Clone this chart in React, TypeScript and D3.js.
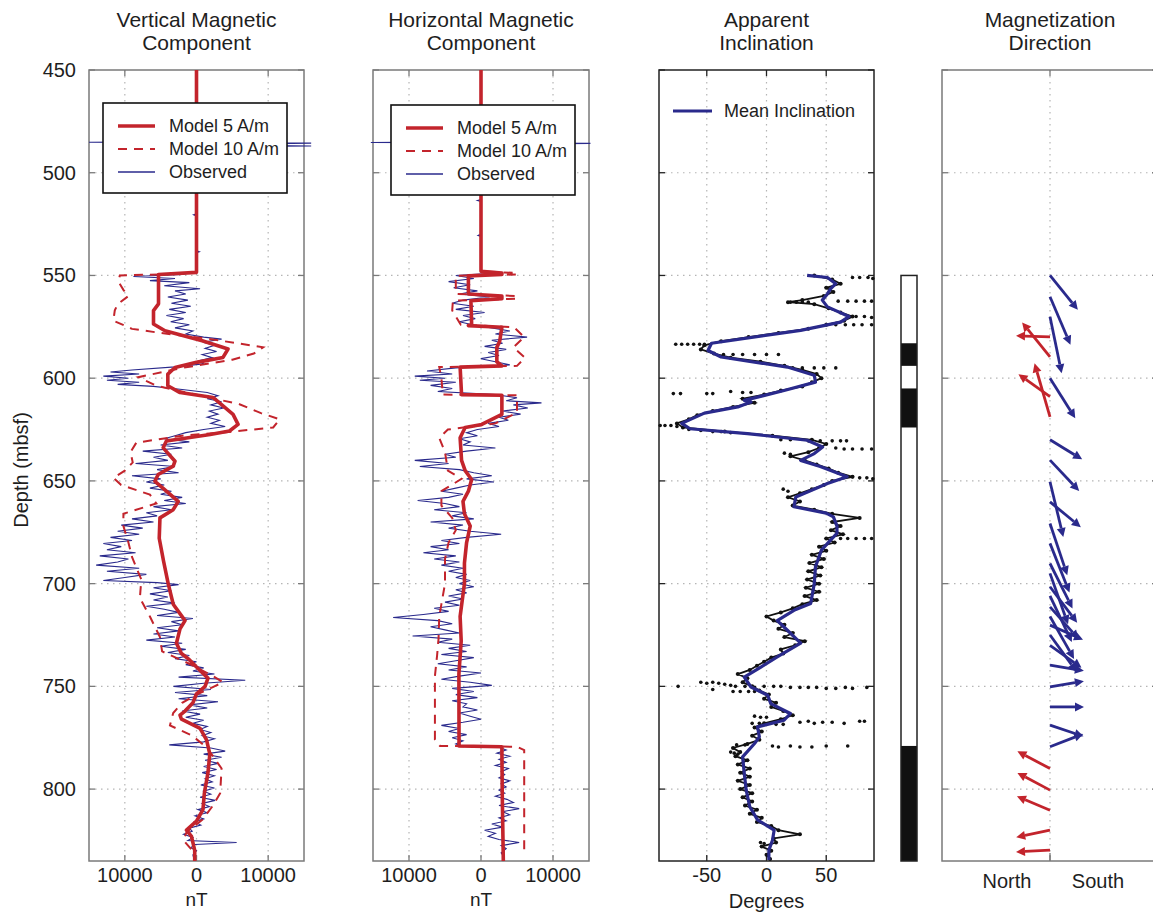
import React from 'react';
import * as d3 from 'd3';

type Pt = [number, number];

// depth axis
const depthDomain = [450, 835];
const depthTicks = [450, 500, 550, 600, 650, 700, 750, 800];
const nTTicks = [-10000, 0, 10000];
const nTTickLabels = ['10000', '0', '10000'];
const degTicks = [-50, 0, 50];
const degTickLabels = ['-50', '0', '50'];

// [depth, nT] vertical component
const vertModel5: Pt[] = [
  [450, 0], [548.5, 0], [549.5, -5300], [563.8, -5300], [567.1, -6000], [573.6, -6000], [576.9, -4400],
  [581.8, 800], [585.8, 4400], [589.9, 3700], [592.3, 0], [594.8, -3000], [598, -4000], [603.7, -4000],
  [607, -2300], [609.4, 2300], [617.6, 5100], [622.5, 5800], [625.7, 4600], [627.4, 1900], [630.6, -4200],
  [633.9, -4650], [640.4, -3000], [642.8, -3250], [646.9, -5350], [650.2, -5800], [655, -4200], [660, -2560],
  [664, -3250], [668, -5100], [677.9, -5200], [689, -4600], [700, -3950], [710, -3250], [718, -1600],
  [722, -2300], [729, -2800], [734, -2100], [737, -1000], [740.6, 0], [746, 1600], [750, 1200], [753.6, 0],
  [758, -500], [762, -1600], [764, -2300], [766, -2100], [770.5, 500], [776, 1400], [783, 1860], [792, 1600],
  [802, 1100], [810, 900], [815.6, 0], [820, -1400], [823, -700], [829.8, -250], [835, -250],
];
const vertModel10: Pt[] = [
  [450, 0], [548.5, 0], [549.5, -5000], [550, -10700], [553, -10900], [557, -10200], [560, -9500],
  [564, -11000], [567, -11400], [572, -11600], [576, -9000], [578, -5000], [581, 2000], [585, 9300],
  [588, 8000], [591, 5000], [595, -2000], [599.5, -8100], [603.7, -5600], [608, 0], [612.7, 6000],
  [617, 9000], [620, 11600], [624, 10700], [626, 5000], [628, -2000], [631.4, -8400], [636, -9200],
  [641, -8900], [645, -10000], [648.5, -11600], [652, -10500], [656.7, -6500], [661, -5600], [666, -10200],
  [672, -10200], [680, -9500], [687, -9000], [693, -8300], [698, -7700], [707, -7900], [716, -6500],
  [726, -5100], [733, -4800], [739, -1000], [745, 2300], [748, 3700], [750, 2500], [754, 0], [758, -2000],
  [763, -3250], [769, -3700], [774, -600], [780, 1500], [790, 3500], [802, 3300], [808, 2300], [815, 800],
  [821, -1400], [825, -1800], [831, -300], [835, -300],
];
const vertObserved: Pt[] = [
  [450, 0], [484.8, 0], [485.2, -15000], [485.6, 16000], [486.4, 0], [487, 16000], [487.5, 0], [520, 0],
  [520.5, -400], [521, 0], [538, 0], [538.5, 400], [539, 0], [548, 0],
  [549.5, -2000], [550.5, -8800], [551.5, -3000], [552.5, -6500], [553.5, -1000], [555, -4500], [556.5, 500],
  [557.5, -3000], [559, -1500], [560.5, -4000], [562, -1200], [563.5, -3500], [565, -800], [566.5, -3800],
  [568, -1500], [569.5, -4200], [571, -1800], [572.5, -3600], [574, -1000], [575.5, -3000], [577, -500],
  [578.5, -1500], [580, 1000], [581, 3500], [582.5, 900], [584, 2500], [585.5, 1200], [587, 2800],
  [588.5, 800], [590, 2200], [591.5, 300], [593, 1000], [594.5, -3000], [596, -9000], [597, -12000],
  [598, -8000], [599, -13000], [600, -9500], [601, -12500], [602, -8000], [603, -11000], [604, -6000],
  [605.5, -2000], [607, 1500], [608.5, 3000], [610, 1500], [611.5, 3500], [613, 2000], [614.5, 3800],
  [616, 1800], [617.5, 3000], [619, 1500], [620.5, 3200], [622, 2000], [623.5, 4000], [625, 1000],
  [626.5, -1500], [628, -3000], [629.5, -4500], [631, -1000], [632.5, -5000], [634, -2000], [635.5, -7500],
  [637, -3500], [638.5, -6000], [640, -4000], [641.5, -8500], [643, -3000], [644.5, -5500], [646, -2500],
  [647.5, -9000], [649, -5000], [650.5, -7000], [652, -4500], [653.5, -6500], [655, -3500], [656.5, -5000],
  [658, -2000], [659.5, -4500], [661, -1500], [662.5, -6000], [664, -3500], [665.5, -7000], [667, -5500],
  [668.5, -9000], [670, -6000], [671.5, -10500], [673, -7500], [674.5, -11000], [676, -8000],
  [677.5, -12000], [679, -9000], [680.5, -13000], [682, -10500], [683.5, -12500], [685, -8500],
  [686.5, -13500], [688, -9500], [689.5, -11000], [691, -14000], [692.5, -8000], [694, -12500],
  [695.5, -7000], [697, -10000], [698.5, -13000], [699.5, -5500], [700.5, -2500], [702, -6000],
  [703.5, -3500], [705, -6500], [706.5, -4000], [708, -6000], [709.5, -3000], [711, -7000], [712.5, -4500],
  [714, -2500], [715.5, -5500], [717, -500], [718.5, -3500], [720, -2000], [721.5, -5500], [723, -2500],
  [724.5, -6000], [726, -3000], [727.5, -7000], [729, -2000], [730.5, -5000], [732, -1500], [733.5, -4000],
  [735, -1000], [736.5, -3000], [738, 0], [739.5, -1500], [741, 1000], [742.5, -500], [744, 2500],
  [745.5, -2500], [747, 6800], [748.5, 1000], [750, -3200], [751.5, 2000], [753, -3000], [754.5, 1500],
  [756, -2500], [757.5, 3000], [759, -1000], [760.5, 1500], [762, -2000], [763.5, 500], [765, -1500],
  [766.5, 1000], [768, -500], [769.5, 1500], [771, 500], [772.5, 2000], [774, 800], [775.5, 2500],
  [777, 1000], [778.5, -3800], [780, 2000], [781.5, 4000], [783, 1000], [784.5, 3500], [786, 1200],
  [787.5, 3000], [789, 1000], [790.5, 2800], [792, 800], [793.5, 2500], [795, 1200], [796.5, 2200],
  [798, 600], [799.5, 2500], [801, 1000], [802.5, 2000], [804, 500], [805.5, 2600], [807, 800],
  [808.5, 1800], [810, 200], [811.5, 1500], [813, -200], [814.5, 1000], [816, -300], [817.5, 600],
  [819, -1000], [820.5, -600], [822, -1800], [823.5, -500], [825, -1200], [826, 5600], [827, -200],
  [828.5, -800], [830, 0], [832, -500], [835, -300],
];

// [depth, nT] horizontal component
const horizModel5: Pt[] = [
  [450, 0], [548, 0], [548.8, 2900], [549.5, 2900], [550.2, -1750], [559, -1750], [560, 2900], [561.3, 2900],
  [562.3, -1400], [574, -1300], [574.4, -1750], [575.2, 2900], [582, 2600], [585, 2200], [592, 2200],
  [594, 2900], [594.6, -2900], [608, -2700], [608.3, 2900], [617.6, 2900], [622.5, 100], [624, -2200],
  [629, -2900], [640, -2700], [645, -2200], [649.3, -1300], [655, -1750], [660, -2500], [666, -2300],
  [672, -1500], [680, -2000], [690, -2300], [700, -2300], [716, -2900], [728, -2750], [744, -3070],
  [779, -3050], [779.4, 2900], [802, 2950], [835, 3100],
];
const horizModel10: Pt[] = [
  [450, 0], [548, 0], [548.8, 5000], [549.5, 5000], [550.2, -3500], [559, -3500], [560, 5000], [561.3, 5000],
  [562.3, -3900], [567, -4000], [574, -2800], [575.2, 4600], [580, 6000], [585, 4500], [590, 6100],
  [594, 5000], [594.6, -5800], [600, -5500], [608, -5300], [608.3, 5000], [616.8, 5000], [622, 2000],
  [625, -4600], [629, -5800], [636, -5000], [645, -4600], [649, -2700], [655, -5500], [662, -5500],
  [668, -4000], [674, -3500], [680, -4500], [688, -5000], [700, -5000], [710, -5500], [716, -5800],
  [727, -5900], [735, -6100], [745, -6400], [760, -6400], [776, -6400], [779, -5700], [779.4, 5000],
  [781, 6000], [830, 6000],
];
const horizObserved: Pt[] = [
  [450, 0], [484.8, 0], [485.3, -15300], [485.7, 15200], [486.2, 0], [500, 0], [500.5, -600], [501, 0],
  [513, 0], [513.5, -500], [514, 0], [530, 0], [530.5, -400], [531, 0], [548, 0], [549, 1500], [550, -3500],
  [551.5, -1000], [553, -4500], [554.5, -1500], [556, -3800], [557.5, -500], [559, -3000], [560.5, 1200],
  [562, -2500], [563.5, -4000], [565, -1000], [566.5, -3500], [568, 500], [569.5, -2500], [571, -800],
  [572.5, -3000], [574, -1200], [575.5, 1500], [577, 4000], [578.5, 2000], [580, 6400], [581.5, 1500],
  [583, 3000], [584.5, 500], [586, 3500], [587.5, 1000], [589, 2500], [590.5, 0], [592, 2000],
  [593.5, 4000], [595, -3500], [596.5, -7500], [598, -4000], [599, -9200], [600, -5000], [601, -8500],
  [602, -3500], [603.5, -7000], [605, -4000], [606.5, -6000], [608, 2000], [609.5, 5000], [611, 3500],
  [612, 8400], [613, 4500], [614.5, 6500], [616, 3000], [617.5, 5500], [619, 2500], [620.5, 3800],
  [622, 1000], [623.5, 2500], [625, -500], [626.5, -2000], [628, -500], [629.5, -3000], [631, -1500],
  [632.5, -2500], [634, 2000], [635.5, -2000], [637, -5000], [638.5, -3500], [640, -9200], [641.5, -4500],
  [643, -8500], [644.5, -3000], [646, -1000], [647.5, 1500], [649, -2000], [650.5, 1800], [652, -1500],
  [653.5, -3500], [655, -5500], [656.5, -2500], [658, -4500], [659.5, -8800], [661, -5000], [662.5, -3000],
  [664, -6500], [665.5, -2000], [667, -4000], [668.5, -1000], [670, -7000], [671.5, -2500], [673, -4500],
  [674.5, -1500], [676, 2800], [677.5, -2000], [679, -5500], [680.5, -3000], [682, -7000], [683.5, -4500],
  [685, -8000], [686.5, -3500], [688, -6500], [689.5, -3000], [691, -5500], [692.5, -2500], [694, -4500],
  [695.5, -2000], [697, -3500], [698.5, -1500], [700, -3000], [701.5, -1000], [703, -3500], [704.5, -2000],
  [706, -4500], [707.5, -2500], [709, -5000], [710.5, -3000], [712, -6500], [713.5, -4500], [715, -8000],
  [716.5, -12200], [718, -6000], [719.5, -4000], [721, -7000], [722.5, -5000], [724, -3000],
  [725.5, -9500], [727, -4000], [728.5, -6000], [730, -1500], [731.5, -4500], [733, -2000], [734.5, -5500],
  [736, -1000], [737.5, -3500], [739, -6000], [740.5, -2000], [742, -4500], [743.5, 0], [745, -3000],
  [746.5, -5500], [748, -1500], [749.5, 1500], [751, -4000], [752.5, -1000], [754, -3500], [755.5, -500],
  [757, -4000], [758.5, -2000], [760, -2500], [761.5, -500], [763, -3000], [764.5, -1500], [766, 0],
  [767.5, -2500], [769, -5500], [770.5, -3000], [772, -4500], [773.5, -2000], [775, -4000], [776.5, -2500],
  [778, -3500], [779.2, -2500], [779.6, 2500], [781, 3500], [782.5, 2200], [784, 4000], [785.5, 2500],
  [787, 3500], [788.5, 2000], [790, 3800], [791.5, 2800], [793, 3300], [794.5, 2500], [796, 4000],
  [797.5, 2800], [799, 3500], [800.5, 2500], [802, 3300], [803.5, 2000], [805, 3600], [806.5, 4500],
  [808, 2500], [809.5, 5300], [811, 3000], [812.5, 4000], [814, 2500], [815.5, 3500], [817, 1500],
  [818.5, 3000], [820, 500], [821.5, 2000], [823, 1000], [824.5, 2500], [826, 5300], [827.5, 2800],
  [829, 3500], [831, 2800], [833, 3200], [835, 3000],
];

// [depth, degrees] apparent inclination
const incMean: Pt[] = [
  [550, 34], [551, 51], [554, 58], [556.5, 53.6], [559, 51], [562, 46.7], [565.3, 51], [570, 69],
  [572.7, 62], [576.7, 28.6], [583, -46], [586.5, -49], [589.7, -38], [594.6, 17.5], [598.6, 40],
  [601.9, 41], [606, 14.7], [610.8, -18.6], [611.6, -13], [614, -24], [617, -52], [622, -71], [624.6, -64],
  [627, -16], [630.2, 34], [633.5, 47], [636.7, 40], [640, 28.6], [643, 45], [648, 67.5], [651.3, 51],
  [657.8, 24.5], [662.6, 23], [665.7, 50], [667.5, 56], [672, 59], [675.5, 59], [678.8, 53.6], [683.7, 46],
  [691.8, 41], [700, 40], [709.7, 37], [713, 23], [718, 9], [722.7, 17.5], [729, 28.6], [735.7, 9],
  [740.6, -4.7], [745.5, -18.6], [750.3, -13], [754.3, 1], [758.4, 3.6], [763.2, 20], [766.5, 14.7],
  [769.7, -7.5], [774.6, -6], [777.8, -10], [784.3, -20], [792.4, -18.6], [800.5, -17], [808.6, -14],
  [815, -7.5], [820, 6.4], [824.9, 5], [829.7, 2], [834.5, 2],
];
const incRaw: Pt[] = [
  [550, 40], [552, 55], [554, 62], [556, 50], [558, 56], [560, 48], [562, 30], [563, 18], [564, 40], [566, 52],
  [568, 62], [570, 72], [572, 65], [574, 50], [576, 35], [578, 10], [580, -15], [582, -38], [584, -52],
  [586, -55], [588, -44], [590, -30], [592, -5], [594, 15], [596, 30], [598, 42], [600, 46], [602, 38],
  [604, 30], [606, 12], [608, -2], [610, -20], [612, -10], [614, -28], [616, -45], [618, -58], [620, -65],
  [622, -75], [624, -70], [626, -35], [628, 5], [630, 38], [632, 50], [634, 44], [636, 35], [638, 20],
  [640, 32], [642, 42], [644, 52], [646, 60], [648, 72], [650, 55], [652, 48], [654, 38], [656, 28],
  [658, 18], [660, 28], [662, 22], [664, 40], [666, 55], [668, 78], [670, 55], [672, 62], [674, 54],
  [676, 64], [678, 50], [680, 57], [682, 44], [684, 50], [686, 38], [688, 48], [690, 36], [692, 46],
  [694, 35], [696, 45], [698, 34], [700, 44], [702, 33], [704, 44], [706, 32], [708, 42], [710, 30],
  [712, 22], [714, 12], [716, 0], [718, 6], [720, 15], [722, 10], [724, 22], [726, 15], [728, 32],
  [730, 24], [732, 12], [734, 14], [736, 4], [738, -2], [740, -8], [742, -14], [744, -24], [746, -16],
  [748, -20], [750, -12], [752, -6], [754, 2], [756, -2], [758, 8], [760, 4], [762, 14], [764, 22],
  [766, 12], [768, -2], [770, -10], [772, -4], [774, -12], [776, -6], [778, -16], [780, -28], [782, -22],
  [784, -26], [786, -16], [788, -24], [790, -14], [792, -22], [794, -14], [796, -24], [798, -14],
  [800, -22], [802, -12], [804, -20], [806, -12], [808, -18], [810, -8], [812, -14], [814, -4], [816, -8],
  [818, 4], [820, 10], [822, 28], [824, 6], [826, 8], [828, -4], [830, 4], [832, 0], [834, 3],
];
const incScatter: Pt[] = [
  [551, 72], [551, 78], [551, 85], [551.5, 89], [563, 20], [563, 25], [563, 30], [563, 35],
  [562.5, 60], [562.5, 68], [562.5, 75], [562.5, 82], [562.5, 88], [570, 75], [570, 82], [570.5, 88],
  [574, 58], [574, 66], [574, 73], [574, 80], [574, 88],
  [583.5, -76], [583.5, -71], [583.5, -66], [583.5, -61], [583.5, -56], [583.5, -52],
  [588.5, -36], [588.5, -28], [588.5, -20], [588.5, -10], [588.5, 0], [588.5, 10],
  [595, 22], [595, 30], [595, 40], [595, 48], [595, 58],
  [607.5, -78], [607.5, -72], [607.5, -50], [607.5, -45], [606.5, -30], [607, -20], [607, -13],
  [623, -89], [623, -85], [623, -80], [623.5, -75], [625, -65], [625.5, -55], [626, -45], [626, -38], [626.5, -30],
  [630, 12], [630, 20], [630.5, 35], [630.5, 45], [630.5, 55], [630.5, 62], [630.5, 67],
  [634, 58], [634.5, 65], [634.5, 72], [634.5, 80], [634.5, 88], [636.5, 15], [637, 20],
  [648, 72], [648.5, 78], [648.5, 84], [649, 89], [654, 14], [655, 18],
  [678, 62], [678, 68], [678, 75], [678, 82], [678, 88],
  [748, -55], [748.5, -50], [748, -45], [748.5, -40], [749, -35], [749.5, -30], [750, -74], [750, -26],
  [750, -18], [750.5, -10], [750, -2], [750, 6], [750, 12], [750.5, 20], [750.5, 28], [750.5, 35],
  [750.5, 42], [751, 50], [751, 58], [750.5, 66], [751, 72], [750.5, 84], [751.5, -45], [752.5, -28],
  [752.5, -22], [752.5, -15], [752.5, -10],
  [764.5, -10], [765, -5], [765, 0], [767.5, 28], [767, 35], [768, 40], [767.5, 47], [767.5, 55],
  [768, 65], [767, 78], [767, 82], [768, -12], [768, -6], [768.5, 0], [768.5, 8], [768.5, 14],
  [778.5, -25], [778.5, -18], [779, 5], [779.5, 10], [779, 20], [779.5, 28], [779.5, 38], [779, 50], [779, 68],
  [782, -30], [782.5, -27], [783, -24], [826, -5], [826.5, -2],
];

// polarity column: black = reversed intervals
const polarityTop = 550;
const polarityBottom = 835;
const reversedBands: Pt[] = [[583, 594], [605, 624], [779, 835]];

// magnetization direction: [depth, inclination deg]
const normalArrows: Pt[] = [
  [550, 35], [560.4, 53], [570.1, 70], [600, 42], [630, 19], [639.9, 31], [650.4, 67], [660.2, 25],
  [670.7, 59.5], [680.4, 55], [690.2, 48.5], [695, 58], [701.5, 37], [706, 50], [711.3, 32.5], [716, 45],
  [720.2, 14], [725, 38], [730, 22], [739.7, 5.4], [750.2, -5.4], [760, 0], [768.9, 10.7], [779.4, -12.4],
];
const reversedArrows: Pt[] = [
  [579.9, -1], [589.6, -35], [609, -22], [618.8, -63], [790, -16.7], [800.5, -16.7], [810.3, -13.4],
  [820, 6.8], [829.7, 1.7],
];

const RED = '#c3242c';
const BLUE = '#2a2a8c';
const AXIS = '#7a7a7a';
const GRID = '#b5b5b5';
const TEXT = '#1e1e1e';
const FONT = '"Liberation Sans", Arial, sans-serif';

const y = d3.scaleLinear().domain(depthDomain).range([70, 861]);
const xVert = d3.scaleLinear().domain([-15000, 15000]).range([89, 304]);
const xHoriz = d3.scaleLinear().domain([-15000, 15000]).range([373, 589]);
const xInc = d3.scaleLinear().domain([-90, 90]).range([659, 874]);
const xDir = d3.scaleLinear().domain([-1, 1]).range([942, 1158]);
const xPol = [901, 917];

const pathFor = (x: d3.ScaleLinear<number, number>) =>
  d3.line<Pt>().x(d => x(d[1])).y(d => y(d[0]));

function Frame({ x, ticks, color }: { x: d3.ScaleLinear<number, number>; ticks: number[]; color: string }) {
  const [x0, x1] = x.range();
  const y0 = y(depthDomain[0]);
  const y1 = y(depthDomain[1]);
  return (
    <g>
      {depthTicks.slice(1).map(t => (
        <line key={'h' + t} x1={x0} x2={x1} y1={y(t)} y2={y(t)} stroke={GRID} strokeWidth={1.2} strokeDasharray="1.5,4.5" />
      ))}
      {ticks.map(t => (
        <line key={'v' + t} x1={x(t)} x2={x(t)} y1={y0} y2={y1} stroke={GRID} strokeWidth={1.2} strokeDasharray="1.5,4.5" />
      ))}
      <rect x={x0} y={y0} width={x1 - x0} height={y1 - y0} fill="none" stroke={color} strokeWidth={1.5} />
      {depthTicks.map(t => (
        <g key={'t' + t}>
          <line x1={x0} x2={x0 + 6} y1={y(t)} y2={y(t)} stroke={color} strokeWidth={1.3} />
          <line x1={x1 - 6} x2={x1} y1={y(t)} y2={y(t)} stroke={color} strokeWidth={1.3} />
        </g>
      ))}
      {ticks.map(t => (
        <g key={'x' + t}>
          <line x1={x(t)} x2={x(t)} y1={y1} y2={y1 - 6} stroke={color} strokeWidth={1.3} />
          <line x1={x(t)} x2={x(t)} y1={y0} y2={y0 + 6} stroke={color} strokeWidth={1.3} />
        </g>
      ))}
    </g>
  );
}

function Title({ cx, lines }: { cx: number; lines: string[] }) {
  return (
    <text x={cx} textAnchor="middle" fontSize={21} fill={TEXT} fontFamily={FONT}>
      <tspan x={cx} y={27}>{lines[0]}</tspan>
      <tspan x={cx} y={50}>{lines[1]}</tspan>
    </text>
  );
}

function Legend({ x, yTop }: { x: number; yTop: number }) {
  const rows = [
    { label: 'Model 5 A/m', stroke: RED, w: 3.5, dash: undefined },
    { label: 'Model 10 A/m', stroke: RED, w: 2, dash: '9,7' },
    { label: 'Observed', stroke: BLUE, w: 1.5, dash: undefined },
  ];
  return (
    <g>
      <rect x={x} y={yTop} width={184} height={90} fill="#fff" stroke="#111" strokeWidth={1.6} />
      {rows.map((r, i) => {
        const ry = yTop + 23 + i * 23;
        return (
          <g key={r.label}>
            <line x1={x + 15} x2={x + 52} y1={ry} y2={ry} stroke={r.stroke} strokeWidth={r.w} strokeDasharray={r.dash} />
            <text x={x + 66} y={ry + 6} fontSize={18} fill={TEXT} fontFamily={FONT}>{r.label}</text>
          </g>
        );
      })}
    </g>
  );
}

function Arrow({ depth, inc, dir, color }: { depth: number; inc: number; dir: number; color: string }) {
  const rad = (inc * Math.PI) / 180;
  const x0 = xDir(0);
  const y0 = y(depth);
  const dx = dir * (xDir(1) - xDir(0)) * 0.315 * Math.cos(rad);
  const dy = 60 * Math.sin(rad);
  const len = Math.hypot(dx, dy);
  const ux = dx / len;
  const uy = dy / len;
  const hx = x0 + dx;
  const hy = y0 + dy;
  const hl = 9;
  const hw = 4.5;
  const bx = hx - ux * hl;
  const by = hy - uy * hl;
  return (
    <g>
      <line x1={x0} y1={y0} x2={bx} y2={by} stroke={color} strokeWidth={2.8} />
      <polygon
        points={`${hx},${hy} ${bx - uy * hw},${by + ux * hw} ${bx + uy * hw},${by - ux * hw}`}
        fill={color}
      />
    </g>
  );
}

export default function App() {
  const vLine = pathFor(xVert);
  const hLine = pathFor(xHoriz);
  const iLine = pathFor(xInc);
  const yBottom = y(depthDomain[1]);
  return (
    <div>
      <style>{'body{margin:0;background:#fff}'}</style>
      <svg width={1153} height={917} style={{ display: 'block' }} fontFamily={FONT}>
        <rect x={0} y={0} width={1153} height={917} fill="#fff" />

        {/* titles */}
        <Title cx={xVert(0)} lines={['Vertical Magnetic', 'Component']} />
        <Title cx={xHoriz(0)} lines={['Horizontal Magnetic', 'Component']} />
        <Title cx={xInc(0)} lines={['Apparent', 'Inclination']} />
        <Title cx={xDir(0)} lines={['Magnetization', 'Direction']} />

        {/* depth axis labels */}
        {depthTicks.map(t => (
          <text key={t} x={76} y={y(t) + 7} textAnchor="end" fontSize={20} fill={TEXT}>{t}</text>
        ))}
        <text transform={`translate(28,${470}) rotate(-90)`} textAnchor="middle" fontSize={20} fill={TEXT}>Depth (mbsf)</text>

        {/* panel 1: vertical */}
        <Frame x={xVert} ticks={nTTicks} color={AXIS} />
        <path d={vLine(vertObserved) ?? ''} fill="none" stroke={BLUE} strokeWidth={1.1} />
        <path d={vLine(vertModel10) ?? ''} fill="none" stroke={RED} strokeWidth={2} strokeDasharray="9,7" />
        <path d={vLine(vertModel5) ?? ''} fill="none" stroke={RED} strokeWidth={3.6} strokeLinejoin="round" />
        <Legend x={103} yTop={103} />
        {nTTicks.map((t, i) => (
          <text key={t} x={xVert(t)} y={882} textAnchor="middle" fontSize={20} fill={TEXT}>{nTTickLabels[i]}</text>
        ))}
        <text x={xVert(0)} y={906} textAnchor="middle" fontSize={19} fill={TEXT}>nT</text>

        {/* panel 2: horizontal */}
        <Frame x={xHoriz} ticks={nTTicks} color={AXIS} />
        <path d={hLine(horizObserved) ?? ''} fill="none" stroke={BLUE} strokeWidth={1.1} />
        <path d={hLine(horizModel10) ?? ''} fill="none" stroke={RED} strokeWidth={2} strokeDasharray="9,7" />
        <path d={hLine(horizModel5) ?? ''} fill="none" stroke={RED} strokeWidth={3.6} strokeLinejoin="round" />
        <Legend x={391} yTop={105} />
        {nTTicks.map((t, i) => (
          <text key={t} x={xHoriz(t)} y={882} textAnchor="middle" fontSize={20} fill={TEXT}>{nTTickLabels[i]}</text>
        ))}
        <text x={xHoriz(0)} y={906} textAnchor="middle" fontSize={19} fill={TEXT}>nT</text>

        {/* panel 3: inclination */}
        <Frame x={xInc} ticks={degTicks} color="#222" />
        <path d={iLine(incRaw) ?? ''} fill="none" stroke="#111" strokeWidth={1.8} />
        {incRaw.map((d, i) => (
          <circle key={'r' + i} cx={xInc(d[1])} cy={y(d[0])} r={2} fill="#111" />
        ))}
        {incScatter.map((d, i) => (
          <circle key={'s' + i} cx={xInc(d[1])} cy={y(d[0])} r={1.8} fill="#111" />
        ))}
        <path d={iLine(incMean) ?? ''} fill="none" stroke={BLUE} strokeWidth={3.2} strokeLinejoin="round" />
        <line x1={673} x2={712} y1={111} y2={111} stroke={BLUE} strokeWidth={3} />
        <text x={724} y={117} fontSize={18} fill={TEXT}>Mean Inclination</text>
        {degTicks.map((t, i) => (
          <text key={t} x={xInc(t)} y={882} textAnchor="middle" fontSize={20} fill={TEXT}>{degTickLabels[i]}</text>
        ))}
        <text x={xInc(0)} y={908} textAnchor="middle" fontSize={20} fill={TEXT}>Degrees</text>

        {/* polarity column */}
        <rect x={xPol[0]} y={y(polarityTop)} width={xPol[1] - xPol[0]} height={y(polarityBottom) - y(polarityTop)} fill="#fff" />
        {reversedBands.map((b, i) => (
          <rect key={i} x={xPol[0]} y={y(b[0])} width={xPol[1] - xPol[0]} height={y(b[1]) - y(b[0])} fill="#111" />
        ))}
        <rect x={xPol[0]} y={y(polarityTop)} width={xPol[1] - xPol[0]} height={y(polarityBottom) - y(polarityTop)} fill="none" stroke="#222" strokeWidth={1.5} />

        {/* panel 4: magnetization direction */}
        <Frame x={xDir} ticks={[0]} color={AXIS} />
        {normalArrows.map((a, i) => (
          <Arrow key={'n' + i} depth={a[0]} inc={a[1]} dir={1} color={BLUE} />
        ))}
        {reversedArrows.map((a, i) => (
          <Arrow key={'rv' + i} depth={a[0]} inc={a[1]} dir={-1} color={RED} />
        ))}
        <text x={1007} y={888} textAnchor="middle" fontSize={20} fill={TEXT}>North</text>
        <text x={1098} y={888} textAnchor="middle" fontSize={20} fill={TEXT}>South</text>
        <line x1={xDir(0)} x2={xDir(0)} y1={yBottom} y2={yBottom - 8} stroke={AXIS} strokeWidth={1.3} />
      </svg>
    </div>
  );
}
